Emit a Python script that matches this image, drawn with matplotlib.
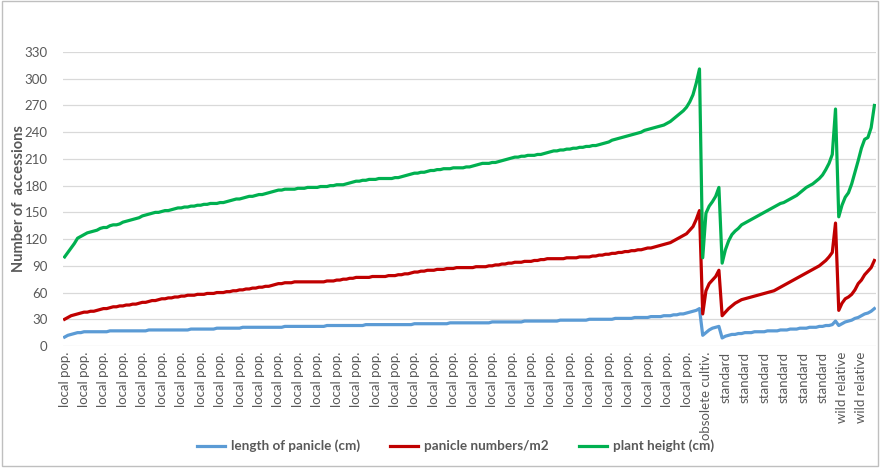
import matplotlib
matplotlib.use("Agg")
import matplotlib.pyplot as plt
from matplotlib.patches import Rectangle

plt.rcParams['font.family'] = ['Lato', 'DejaVu Sans']

# Accession groups (number of accessions in each, in plotting order)
group_names = ["local pop.", "obsolete cultiv.", "standard", "wild relative"]

# length of panicle (cm), sorted within each group
panicle_len_local = [
    10, 12, 13, 14, 15, 15, 16, 16, 16, 16,
    16, 16, 16, 16, 17, 17, 17, 17, 17, 17,
    17, 17, 17, 17, 17, 17, 18, 18, 18, 18,
    18, 18, 18, 18, 18, 18, 18, 18, 18, 19,
    19, 19, 19, 19, 19, 19, 19, 20, 20, 20,
    20, 20, 20, 20, 20, 21, 21, 21, 21, 21,
    21, 21, 21, 21, 21, 21, 21, 21, 22, 22,
    22, 22, 22, 22, 22, 22, 22, 22, 22, 22,
    22, 23, 23, 23, 23, 23, 23, 23, 23, 23,
    23, 23, 23, 24, 24, 24, 24, 24, 24, 24,
    24, 24, 24, 24, 24, 24, 24, 24, 25, 25,
    25, 25, 25, 25, 25, 25, 25, 25, 25, 26,
    26, 26, 26, 26, 26, 26, 26, 26, 26, 26,
    26, 26, 27, 27, 27, 27, 27, 27, 27, 27,
    27, 27, 28, 28, 28, 28, 28, 28, 28, 28,
    28, 28, 28, 29, 29, 29, 29, 29, 29, 29,
    29, 29, 30, 30, 30, 30, 30, 30, 30, 30,
    31, 31, 31, 31, 31, 31, 32, 32, 32, 32,
    32, 33, 33, 33, 33, 34, 34, 34, 35, 35,
    36, 36, 37, 38, 39, 40, 42]
panicle_len_obsolete = [12, 15, 18, 20, 21, 22]
panicle_len_standard = [
    9, 11, 12, 13, 13, 14, 14, 15, 15, 15, 16, 16, 16, 16, 17, 17, 17, 17,
    18, 18, 18, 19, 19, 19, 20, 20, 20, 21, 21, 21, 22, 22, 23, 23, 24, 28]
panicle_len_wild = [23, 25, 27, 28, 29, 31, 32, 34, 36, 37, 39, 42]

# panicle numbers/m2, sorted within each group
panicle_num_local = [
    30, 32, 34, 35, 36, 37, 38, 38, 39, 39,
    40, 41, 42, 42, 43, 44, 44, 45, 45, 46,
    46, 47, 47, 48, 49, 49, 50, 51, 51, 52,
    53, 53, 54, 54, 55, 55, 56, 56, 57, 57,
    57, 58, 58, 58, 59, 59, 59, 60, 60, 60,
    61, 61, 62, 62, 63, 63, 64, 64, 65, 65,
    66, 66, 67, 67, 68, 69, 70, 70, 71, 71,
    71, 72, 72, 72, 72, 72, 72, 72, 72, 72,
    72, 73, 73, 73, 74, 74, 75, 75, 76, 76,
    77, 77, 77, 77, 77, 78, 78, 78, 78, 78,
    79, 79, 79, 80, 80, 81, 81, 82, 83, 83,
    84, 84, 85, 85, 85, 86, 86, 86, 87, 87,
    87, 88, 88, 88, 88, 88, 88, 89, 89, 89,
    89, 90, 90, 91, 91, 92, 92, 93, 93, 94,
    94, 94, 95, 95, 95, 96, 96, 97, 97, 98,
    98, 98, 98, 98, 98, 99, 99, 99, 99, 100,
    100, 100, 100, 101, 101, 102, 102, 103, 103, 104,
    104, 105, 105, 106, 106, 107, 107, 108, 108, 109,
    110, 110, 111, 112, 113, 114, 115, 116, 118, 120,
    122, 124, 126, 130, 134, 142, 152]
panicle_num_obsolete = [36, 62, 70, 74, 78, 85]
panicle_num_standard = [
    34, 38, 42, 45, 48, 50, 52, 53, 54, 55, 56, 57, 58, 59, 60, 61, 62, 64,
    66, 68, 70, 72, 74, 76, 78, 80, 82, 84, 86, 88, 90, 93, 96, 100, 105, 138]
panicle_num_wild = [40, 48, 53, 55, 58, 63, 70, 74, 80, 84, 88, 96]

# plant height (cm), sorted within each group
height_local = [
    100, 105, 110, 115, 121, 123, 125, 127, 128, 129,
    130, 132, 133, 133, 135, 136, 136, 137, 139, 140,
    141, 142, 143, 144, 146, 147, 148, 149, 150, 150,
    151, 152, 152, 153, 154, 155, 155, 156, 156, 157,
    157, 158, 158, 159, 159, 160, 160, 160, 161, 161,
    162, 163, 164, 165, 165, 166, 167, 168, 168, 169,
    170, 170, 171, 172, 173, 174, 175, 175, 176, 176,
    176, 176, 177, 177, 177, 178, 178, 178, 178, 179,
    179, 179, 180, 180, 181, 181, 181, 182, 183, 184,
    185, 185, 186, 186, 187, 187, 187, 188, 188, 188,
    188, 188, 189, 189, 190, 191, 192, 193, 194, 194,
    195, 195, 196, 197, 197, 198, 198, 199, 199, 199,
    200, 200, 200, 200, 201, 201, 202, 203, 204, 205,
    205, 205, 206, 206, 207, 208, 209, 210, 211, 212,
    212, 213, 213, 214, 214, 214, 215, 215, 216, 217,
    218, 219, 219, 220, 220, 221, 221, 222, 222, 223,
    223, 224, 224, 225, 225, 226, 227, 228, 229, 231,
    232, 233, 234, 235, 236, 237, 238, 239, 240, 242,
    243, 244, 245, 246, 247, 248, 250, 252, 255, 258,
    261, 264, 268, 274, 282, 295, 311]
height_obsolete = [99, 149, 157, 162, 168, 178]
height_standard = [
    93, 108, 118, 125, 129, 132, 136, 138, 140, 142, 144, 146, 148, 150, 152,
    154, 156, 158, 160, 161, 163, 165, 167, 169, 172, 175, 178, 180, 182, 185,
    188, 192, 198, 205, 215, 266]
height_wild = [145, 158, 167, 172, 182, 195, 208, 222, 232, 234, 245, 270]

y_ticks = [0, 30, 60, 90, 120, 150, 180, 210, 240, 270, 300, 330]
label_every = 6

panicle_len = panicle_len_local + panicle_len_obsolete + panicle_len_standard + panicle_len_wild
panicle_num = panicle_num_local + panicle_num_obsolete + panicle_num_standard + panicle_num_wild
height = height_local + height_obsolete + height_standard + height_wild

group_sizes = [len(height_local), len(height_obsolete), len(height_standard), len(height_wild)]
categories = []
for name, size in zip(group_names, group_sizes):
    categories += [name] * size
x = list(range(len(categories)))

fig = plt.figure(figsize=(8.81, 4.68), dpi=100)
ax = fig.add_axes([63 / 881, 1 - 346 / 468, (876 - 63) / 881, (346 - 52) / 468])

ax.plot(x, panicle_len, color='#5b9bd5', lw=2.3, label='length of panicle (cm)',
        solid_joinstyle='round', zorder=3)
ax.plot(x, panicle_num, color='#c00000', lw=2.3, label='panicle numbers/m2',
        solid_joinstyle='round', zorder=3)
ax.plot(x, height, color='#00b050', lw=2.3, label='plant height (cm)',
        solid_joinstyle='round', zorder=3)

ax.set_xlim(-0.5, len(x) - 0.5)
ax.set_ylim(0, 330)
ax.set_yticks(y_ticks)
ax.grid(axis='y', color='#d9d9d9', lw=0.9, zorder=0)
ax.set_axisbelow(True)
for s in ax.spines.values():
    s.set_visible(False)

tick_pos = x[::label_every]
ax.set_xticks(tick_pos)
ax.set_xticklabels([categories[i] for i in tick_pos], rotation=90, fontsize=9.5,
                   color='#595959', va='top', ha='center')
ax.tick_params(axis='x', length=0, pad=4)
ax.tick_params(axis='y', length=0, pad=11, labelsize=9.5, labelcolor='#595959')

ax.set_ylabel('Number of  accessions', fontsize=10.5, fontweight='bold', color='#595959')
ax.yaxis.set_label_coords(-0.045, 0.5)

leg = fig.legend(loc='center', bbox_to_anchor=(0.517, 1 - 446 / 468), ncol=3, frameon=False,
                 handlelength=2.1, handletextpad=0.45, columnspacing=2.2,
                 prop={'size': 9.7, 'weight': 'bold'})
for t in leg.get_texts():
    t.set_color('#595959')

fig.patches.append(Rectangle((0.002, 0.004), 0.995, 0.993, transform=fig.transFigure,
                             fill=False, edgecolor='#bfbfbf', lw=1))

fig.savefig('out.png', dpi=100)
